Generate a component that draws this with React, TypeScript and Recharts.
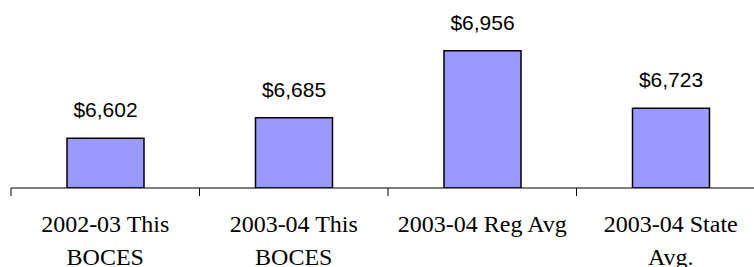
import { Bar, BarChart, LabelList, XAxis, YAxis } from "recharts";

// Category names; "\n" marks where the original wraps the label.
const CATEGORIES = [
  "2002-03 This\nBOCES",
  "2003-04 This\nBOCES",
  "2003-04 Reg Avg",
  "2003-04 State\nAvg.",
];
const COSTS = [6602, 6685, 6956, 6723];
const Y_DOMAIN: [number, number] = [6400, 7000];

const data = CATEGORIES.map((name, i) => ({ name, cost: COSTS[i] }));

const money = (v: number) => `$${Number(v).toLocaleString("en-US")}`;

// Ticks sit between categories in the original, so the tick line is drawn
// half a band to the left of each label.
function CategoryTick(props: any) {
  const { x, y, payload } = props;
  const half = payload.offset ?? 0;
  const lines = String(payload.value).split("\n");
  return (
    <g>
      <line x1={x - half} x2={x - half} y1={y} y2={y + 8} stroke="#000" strokeWidth={1} />
      {lines.map((line, i) => (
        <text
          key={i}
          x={x}
          y={y + 44 + i * 33}
          textAnchor="middle"
          fontFamily="'Liberation Serif', 'Times New Roman', serif"
          fontSize={24}
          fill="#000"
        >
          {line}
        </text>
      ))}
    </g>
  );
}

export default function App() {
  return (
    <div style={{ position: "absolute", left: 0, top: 0, width: 754, height: 267, overflow: "hidden", background: "#fff" }}>
      <style>{"body{margin:0;overflow:hidden}"}</style>
      <BarChart
        width={770}
        height={267}
        data={data}
        margin={{ top: 40, right: 5, bottom: 0, left: 11 }}
      >
        <XAxis
          dataKey="name"
          height={79}
          tickSize={0}
          tickMargin={0}
          interval={0}
          axisLine={{ stroke: "#000", strokeWidth: 1 }}
          tick={<CategoryTick />}
        />
        <YAxis hide domain={Y_DOMAIN} allowDataOverflow />
        <Bar
          dataKey="cost"
          fill="#9999FF"
          stroke="#000"
          strokeWidth={1.5}
          barSize={77}
          isAnimationActive={false}
        >
          <LabelList
            dataKey="cost"
            position="top"
            offset={21}
            formatter={(v: any) => money(v)}
            style={{ fontFamily: "'Liberation Sans', Arial, sans-serif", fontSize: 21, fill: "#000" }}
          />
        </Bar>
      </BarChart>
    </div>
  );
}
